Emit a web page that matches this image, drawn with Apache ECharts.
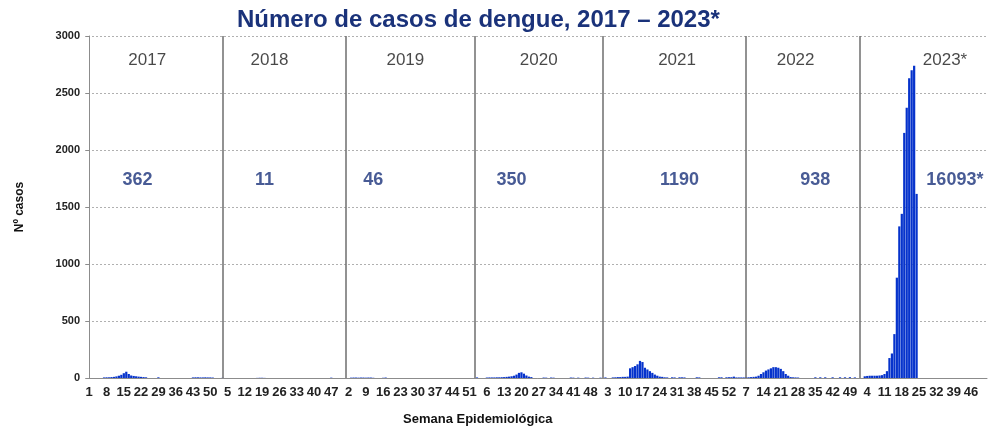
<!DOCTYPE html>
<html>
<head>
<meta charset="utf-8">
<script src="https://cdn.jsdelivr.net/npm/echarts@6/dist/echarts.min.js"></script>
<style>
  html, body { margin: 0; padding: 0; background: #fff; }
  #chart1 { width: 990px; height: 440px; }
</style>
</head>
<body>
<div id="chart1"></div>
<script>
// casos semanais por ano (semana 1..52)
const cases2017 = [0,0,0,0,0,0, 5,6,6,8,10, 14,20,28,42,55,35, 22,18,15,12,10,8,6, 0,0,0,0, 6,
  0,0,0,0,0,0,0,0,0,0,0,0,0, 5,6,6,5,5,6,5,5,4, 0];
const cases2018 = [0,0,2, 0,0,0,0,0,0,0,0,0,0,0,0,0, 1,2,2,1,
  0,0,0,0,0,0,0,0,0,0,0,0,0,0,0,0,0,0,0,0,0,0,0,0,0,0, 3, 0,0,0,0,0];
const cases2019 = [0,0, 3,4,4,3,4,4,3,4,4,2, 0,0,0, 2,4,
  0,0,0,0,0,0,0,0,0,0,0,0,0,0,0,0,0,0,0,0,0,0,0,0,0,0,0,0,0,0,0,0,0,0,0,0, 5];
const cases2020 = [0,0,0, 4,5,5,5,6,6,7,8, 10,12,15,20,30,45,50,38,22,12,8, 0,0,0,0,
  4,3,0,4,3, 0,0,0,0,0,0, 4,3,0,3, 0,0, 4,3,0,3, 0,0, 3,0,5];
const cases2021 = [0,0, 5,6,8,8,10,10,12, 85,95,105,120,150,140,90,75,60,45,30,20, 12,10,
  6,5,0,6,5,0,6,6,5, 0,0,0,0, 6,5, 0,0,0,0,0,0,0, 6,6,0,6,7,7,12];
const cases2022 = [5,5,5,5,6,6,8,10, 12, 20,35,50,65,75,85,95,95,90,80,60,35,20, 8,6,5,4,
  0,0,0,0,0,0, 6,0,6,0,6, 0,0, 6, 0,0, 6,0,6,0,7,0,5, 0,0,0];
const cases2023 = [15,18,20,20,20,20,22,25,35, 60,175,215,385,880,1330,1440,2150,2370,2630,2700,2740,1615,
  0,0,0,0,0,0,0,0,0,0,0,0,0,0,0,0,0,0,0,0,0,0,0,0,0,0,0,0,0,0];

const years = ['2017', '2018', '2019', '2020', '2021', '2022', '2023*'];
const totals = ['362', '11', '46', '350', '1190', '938', '16093*'];
// posição (índice da semana no eixo) dos rótulos, como no gráfico original
const yearLabelAt = [23.5, 73, 128, 182, 238, 286, 346.5];
const totalLabelAt = [19.5, 71, 115, 171, 239, 294, 350.5];
const separatorAt = [54, 104, 156, 208, 266, 312];

const allCases = [].concat(cases2017, cases2018, cases2019, cases2020, cases2021, cases2022, cases2023);
// semanas epidemiológicas 1..52 de cada ano
const weeks = [];
years.forEach(() => {
  for (let w = 1; w <= 52; w++) weeks.push(String(w));
});

const navy = '#1a327a';

const option = {
  animation: false,
  title: {
    text: 'Número de casos de dengue, 2017 – 2023*',
    left: 232,
    top: 3,
    textStyle: { fontFamily: 'Liberation Sans', fontSize: 24, fontWeight: 'bold', color: navy }
  },
  grid: { left: 88, right: 3, top: 36, bottom: 62 },
  xAxis: [
    {
      type: 'category',
      data: weeks,
      axisLine: { lineStyle: { color: '#8c8c8c' } },
      axisTick: { interval: 0, length: 5, lineStyle: { color: '#8c8c8c' } },
      axisLabel: { interval: 6, margin: 8, fontFamily: 'Liberation Sans', fontSize: 13, fontWeight: 'bold', color: '#222' }
    },
    {
      type: 'value',
      min: -0.5,
      max: 363.5,
      show: false
    }
  ],
  yAxis: {
    type: 'value',
    min: 0,
    max: 3000,
    interval: 500,
    name: 'Nº casos',
    nameLocation: 'middle',
    nameGap: 62,
    nameTextStyle: { fontFamily: 'Liberation Sans', fontSize: 12, fontWeight: 'bold', color: '#111' },
    axisLine: { show: true, lineStyle: { color: '#8c8c8c' } },
    axisTick: { show: true, length: 4, lineStyle: { color: '#8c8c8c' } },
    axisLabel: {
      formatter: v => String(v),
      fontFamily: 'Liberation Sans', fontSize: 11, fontWeight: 'bold', color: '#222', margin: 8
    },
    splitLine: { lineStyle: { color: '#b0b0b0', type: [2, 2] } }
  },
  graphic: [
    {
      type: 'text',
      left: 403,
      top: 413,
      style: { text: 'Semana Epidemiológica', font: 'bold 13px "Liberation Sans"', fill: '#111' }
    }
  ],
  series: [
    {
      name: 'casos',
      type: 'bar',
      data: allCases,
      barCategoryGap: '10%',
      itemStyle: { color: '#0633cc' }
    },
    {
      name: 'anos',
      type: 'scatter',
      xAxisIndex: 1,
      symbolSize: 0,
      data: years.map((y, i) => [yearLabelAt[i], 2790, y]),
      label: {
        show: true,
        position: 'inside',
        formatter: p => p.data[2],
        fontFamily: 'Liberation Sans',
        fontSize: 17,
        color: '#1a1a1a'
      },
      markLine: {
        silent: true,
        symbol: 'none',
        label: { show: false },
        lineStyle: { color: '#6e6e6e', type: 'solid', width: 1.5 },
        data: separatorAt.map(x => ({ xAxis: x }))
      }
    },
    {
      name: 'totais',
      type: 'scatter',
      xAxisIndex: 1,
      symbolSize: 0,
      data: totals.map((t, i) => [totalLabelAt[i], 1737, t]),
      label: {
        show: true,
        position: 'inside',
        formatter: p => p.data[2],
        fontFamily: 'Liberation Sans',
        fontSize: 18,
        fontWeight: 'bold',
        color: navy
      }
    }
  ]
};

const mycharts = echarts.init(document.getElementById('chart1'));
mycharts.setOption(option);
</script>
</body>
</html>
